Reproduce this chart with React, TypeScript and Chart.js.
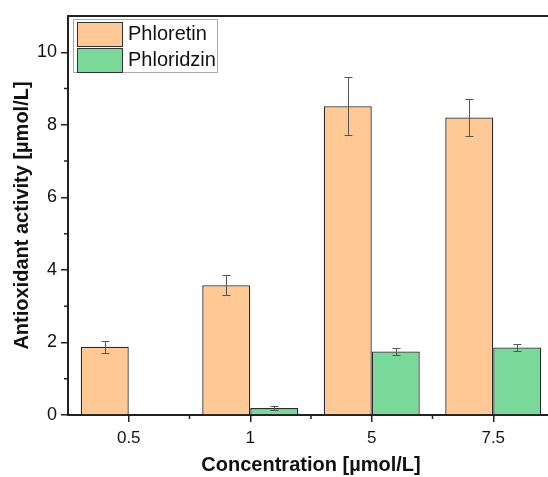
import React, { useEffect, useRef } from "react";
import { Chart, registerables } from "chart.js";

Chart.register(...registerables);

const categories = ["0.5", "1", "5", "7.5"];
const phloretin = [1.88, 3.58, 8.51, 8.2];
const phloretinErr = [0.16, 0.28, 0.8, 0.52];
const phloridzin = [0, 0.19, 1.75, 1.86];
const phloridzinErr = [0, 0.05, 0.1, 0.1];
const yTickValues = [0, 2, 4, 6, 8, 10];
const yMinorValues = [1, 3, 5, 7, 9];
const errors = [phloretinErr, phloridzinErr];

const FONT = "'Liberation Sans', Arial, sans-serif";
const AXIS = "#222222";

const plugin = {
  id: "extras",
  afterDatasetsDraw(chart: any) {
    const ctx = chart.ctx;
    const y = chart.scales.y;
    const x = chart.scales.x;
    const area = chart.chartArea;
    ctx.save();
    // error bars
    ctx.strokeStyle = "#555555";
    ctx.lineWidth = 1;
    chart.data.datasets.forEach((ds: any, di: number) => {
      const meta = chart.getDatasetMeta(di);
      meta.data.forEach((bar: any, i: number) => {
        const v = ds.data[i];
        const e = errors[di][i];
        if (!e) return;
        const yt = Math.round(y.getPixelForValue(v + e)) + 0.5;
        const yb = Math.round(y.getPixelForValue(v - e)) + 0.5;
        const cx = Math.round(bar.x) + 0.5;
        ctx.beginPath();
        ctx.moveTo(cx, yt);
        ctx.lineTo(cx, yb);
        ctx.moveTo(cx - 4, yt);
        ctx.lineTo(cx + 4, yt);
        ctx.moveTo(cx - 4, yb);
        ctx.lineTo(cx + 4, yb);
        ctx.stroke();
      });
    });
    // minor ticks
    ctx.strokeStyle = AXIS;
    ctx.lineWidth = 1.5;
    ctx.beginPath();
    yMinorValues.forEach((v) => {
      const py = y.getPixelForValue(v);
      ctx.moveTo(area.left, py);
      ctx.lineTo(area.left - 4, py);
    });
    for (let i = 0; i < categories.length - 1; i++) {
      const px = (x.getPixelForValue(i) + x.getPixelForValue(i + 1)) / 2;
      ctx.moveTo(px, area.bottom);
      ctx.lineTo(px, area.bottom + 4);
    }
    ctx.stroke();
    // top border
    ctx.lineWidth = 2;
    ctx.beginPath();
    ctx.moveTo(area.left, area.top);
    ctx.lineTo(area.right, area.top);
    ctx.stroke();
    // legend
    const lx = area.left + 5;
    const ly = area.top + 3;
    ctx.fillStyle = "#ffffff";
    ctx.fillRect(lx, ly, 144, 53);
    ctx.strokeStyle = "#aaaaaa";
    ctx.lineWidth = 1;
    ctx.strokeRect(lx + 0.5, ly + 0.5, 144, 53);
    ctx.font = `20px ${FONT}`;
    ctx.textBaseline = "middle";
    chart.data.datasets.forEach((ds: any, di: number) => {
      const sy = ly + 3 + di * 26;
      ctx.fillStyle = ds.backgroundColor;
      ctx.fillRect(lx + 4, sy, 45, 24);
      ctx.strokeStyle = "#333333";
      ctx.strokeRect(lx + 4.5, sy + 0.5, 45, 24);
      ctx.fillStyle = "#111111";
      ctx.fillText(ds.label, lx + 55, sy + 12);
    });
    ctx.restore();
  },
};

export default function App() {
  const ref = useRef<HTMLCanvasElement>(null);
  useEffect(() => {
    const chart = new Chart(ref.current!, {
      type: "bar",
      data: {
        labels: categories,
        datasets: [
          {
            label: "Phloretin",
            data: phloretin,
            backgroundColor: "#FFC895",
            borderColor: "#2a2a2a",
            borderWidth: 1.3,
          },
          {
            label: "Phloridzin",
            data: phloridzin,
            backgroundColor: "#7BD89B",
            borderColor: "#2a2a2a",
            borderWidth: 1.3,
          },
        ],
      },
      options: {
        animation: false,
        responsive: false,
        layout: { padding: { top: 16, right: 6, left: 0, bottom: 0 } },
        datasets: { bar: { categoryPercentage: 0.79, barPercentage: 1 } },
        plugins: { legend: { display: false }, tooltip: { enabled: false } },
        scales: {
          x: {
            grid: {
              display: true,
              drawOnChartArea: false,
              offset: false,
              tickLength: 7,
              color: AXIS,
              lineWidth: 1.5,
            },
            border: { display: true, color: AXIS, width: 2 },
            ticks: { color: "#111", font: { family: FONT, size: 17 }, padding: 6 },
            title: {
              display: true,
              text: "Concentration [µmol/L]",
              color: "#111",
              font: { family: FONT, size: 20, weight: "bold" },
              padding: { top: 0, bottom: 0 },
            },
            afterFit: (s: any) => {
              s.height = 62;
            },
          },
          y: {
            min: 0,
            max: 11,
            afterBuildTicks: (s: any) => {
              s.ticks = yTickValues.map((v) => ({ value: v }));
            },
            grid: {
              display: true,
              drawOnChartArea: false,
              tickLength: 7,
              color: AXIS,
              lineWidth: 1.5,
            },
            border: { display: true, color: AXIS, width: 2 },
            ticks: { color: "#111", font: { family: FONT, size: 18 }, padding: 4 },
            title: {
              display: true,
              text: "Antioxidant activity [µmol/L]",
              color: "#111",
              font: { family: FONT, size: 20, weight: "bold" },
              padding: { top: 10, bottom: 0 },
            },
            afterFit: (s: any) => {
              s.width = 68;
            },
          },
        },
      },
      plugins: [plugin],
    });
    return () => chart.destroy();
  }, []);
  return (
    <div
      style={{
        position: "fixed",
        left: 0,
        top: 0,
        width: 548,
        height: 477,
        overflow: "hidden",
        background: "#fff",
      }}
    >
      <canvas ref={ref} width={560} height={477} style={{ width: 560, height: 477 }} />
    </div>
  );
}
